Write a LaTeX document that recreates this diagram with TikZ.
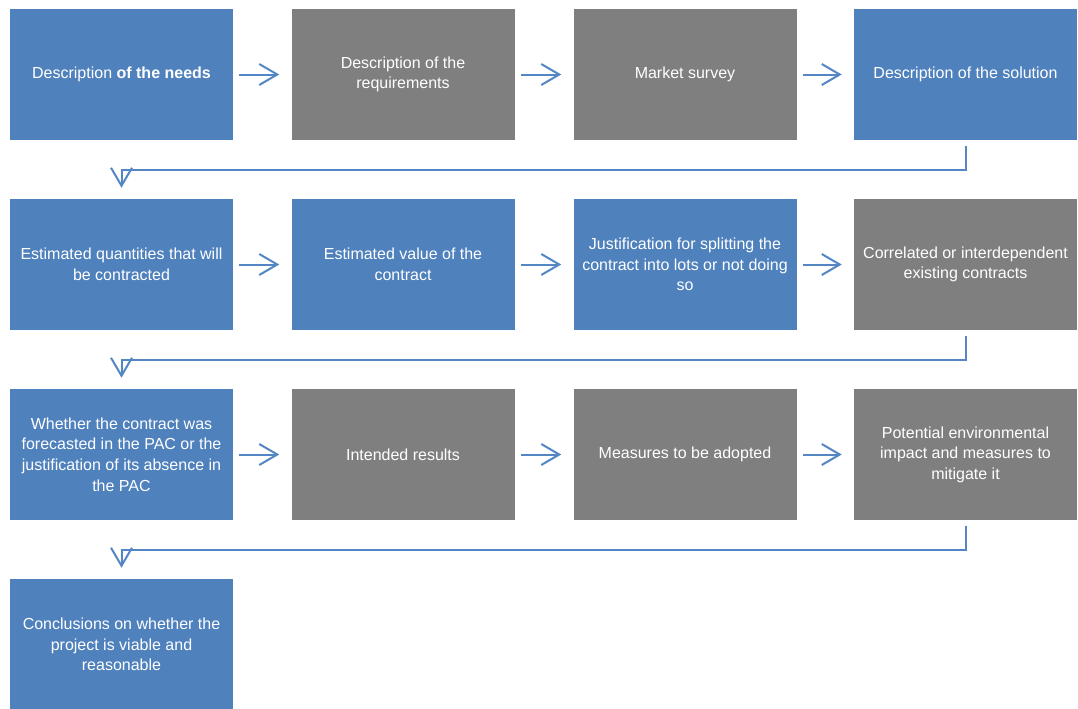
\documentclass[tikz,border=0pt]{standalone}
\usepackage{fontspec}
\setmainfont{Liberation Sans}
\usetikzlibrary{arrows.meta}

\definecolor{boxblue}{RGB}{79,129,189}
\definecolor{boxgray}{RGB}{127,127,127}
\definecolor{linkblue}{RGB}{84,134,196}

\tikzstyle{box}=[rectangle,minimum width=167.25pt,minimum height=98.25pt,inner sep=0pt,align=center,text=white,font=\fontsize{12}{15.4}\selectfont]
\tikzstyle{arrowdecorate}=[-{Straight Barb[length=13.5pt,width=15.75pt]},draw=linkblue,line width=1.5pt]

\begin{document}
\begin{tikzpicture}[x=0.75pt,y=-0.75pt]
      \useasboundingbox[fill=white] (0,0) rectangle (1078,708);
      %nodes
      \foreach \nodename/\x/\y/\boxcol/\txt in {
        needs/121.5/74.5/boxblue/{Description \textbf{of the needs}},
        reqs/403/74.5/boxgray/{Description of the\\requirements},
        survey/685/74.5/boxgray/{Market survey},
        solution/965.5/74.5/boxblue/{Description of the solution},
        quant/121.5/264.5/boxblue/{Estimated quantities that will\\be contracted},
        value/403/264.5/boxblue/{Estimated value of the\\contract},
        lots/685/264.5/boxblue/{Justification for splitting the\\contract into lots or not doing\\so},
        related/965.5/264.5/boxgray/{Correlated or interdependent\\existing contracts},
        pac/121.5/454.5/boxblue/{Whether the contract was\\forecasted in the PAC or the\\justification of its absence in\\the PAC},
        results/403/454.5/boxgray/{Intended results},
        measures/685/454.5/boxgray/{Measures to be adopted},
        impact/965.5/454.5/boxgray/{Potential environmental\\impact and measures to\\mitigate it},
        concl/121.5/644.5/boxblue/{Conclusions on whether the\\project is viable and\\reasonable}}
      {
        \node[box, fill=\boxcol] (\nodename) at (\x,\y) {\txt};
      };
      %arrows within a row
      \foreach \startnode/\endnode in {needs/reqs, reqs/survey, survey/solution,
        quant/value, value/lots, lots/related,
        pac/results, results/measures, measures/impact}
      {
        \draw[arrowdecorate] ([xshift=4.5pt]\startnode.east) -- ([xshift=-9pt]\endnode.west);
      };
      %links to the next row
      \foreach \startnode/\endnode in {solution/quant, related/pac, impact/concl}
      {
        \draw[arrowdecorate] ([yshift=-4.5pt]\startnode.south) -- ++(0,24) -| ([yshift=8.25pt]\endnode.north);
      };
\end{tikzpicture}
\end{document}
